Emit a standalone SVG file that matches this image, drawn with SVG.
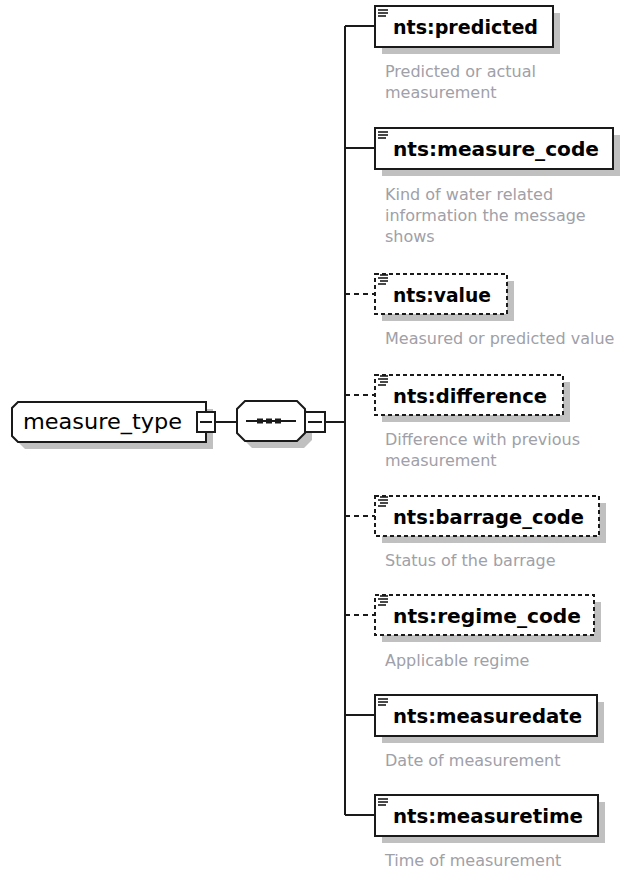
<svg xmlns="http://www.w3.org/2000/svg" width="622" height="871" viewBox="0 0 622 871">
<style>
.bg{fill:#ffffff}
.shadow{fill:#c0c0c0;stroke:none}
.box{fill:#ffffff;stroke:#1a1a1a;stroke-width:2}
.opt{fill:#ffffff;stroke:#1a1a1a;stroke-width:2;stroke-dasharray:4,3}
.line{stroke:#1a1a1a;stroke-width:2;fill:none}
.dline{stroke:#1a1a1a;stroke-width:2;fill:none;stroke-dasharray:5,4}
.icon{stroke:#1a1a1a;stroke-width:1.6}
.name{font-family:"DejaVu Sans",sans-serif;font-weight:bold;font-size:20px;fill:#000000}
.type{font-family:"DejaVu Sans",sans-serif;font-size:20.5px;fill:#000000}
.desc{font-family:"DejaVu Sans",sans-serif;font-size:16px;fill:#a0a0a8}
</style>
<rect class="bg" x="0" y="0" width="622" height="871"/>

<g id="connectors">
  <line class="line" x1="215" y1="422" x2="237" y2="422"/>
  <line class="line" x1="325" y1="422" x2="345" y2="422"/>
  <line class="line" x1="345" y1="26" x2="345" y2="815"/>
  <line class="line" x1="345" y1="26" x2="375" y2="26"/>
  <line class="line" x1="345" y1="148" x2="375" y2="148"/>
  <line class="dline" x1="345" y1="294" x2="375" y2="294"/>
  <line class="dline" x1="345" y1="395" x2="375" y2="395"/>
  <line class="dline" x1="345" y1="516" x2="375" y2="516"/>
  <line class="dline" x1="345" y1="615" x2="375" y2="615"/>
  <line class="line" x1="345" y1="715" x2="375" y2="715"/>
  <line class="line" x1="345" y1="815" x2="375" y2="815"/>
</g>

<g id="measure_type">
  <path class="shadow" d="M25,409 H213 V449 H25 L19,443 V415 Z"/>
  <path class="box" d="M18,402 H206 V442 H18 L12,436 V408 Z"/>
  <text class="type" x="23" y="429" textLength="159" lengthAdjust="spacingAndGlyphs">measure_type</text>
  <rect class="box" x="197" y="412" width="18" height="20"/>
  <line class="line" x1="200" y1="422" x2="212" y2="422"/>
</g>

<g id="sequence">
  <path class="shadow" d="M252,408 H304 L312,416 V440 L304,448 H252 L244,440 V416 Z"/>
  <path class="box" d="M245,401 H297 L305,409 V433 L297,441 H245 L237,433 V409 Z"/>
  <line class="line" x1="246" y1="421" x2="296" y2="421"/>
  <rect x="257" y="418.5" width="6" height="5" fill="#1a1a1a"/>
  <rect x="266" y="418.5" width="6" height="5" fill="#1a1a1a"/>
  <rect x="275" y="418.5" width="6" height="5" fill="#1a1a1a"/>
  <rect class="box" x="305" y="412" width="20" height="20"/>
  <line class="line" x1="308" y1="422" x2="322" y2="422"/>
</g>

<g id="predicted">
  <rect class="shadow" x="382" y="13" width="178" height="41"/>
  <rect class="box" x="375" y="6" width="178" height="41"/>
  <line class="icon" x1="378" y1="10" x2="388" y2="10"/>
  <line class="icon" x1="378" y1="13" x2="388" y2="13"/>
  <line class="icon" x1="378" y1="16" x2="386" y2="16"/>
  <text class="name" x="393" y="33.5" textLength="145" lengthAdjust="spacingAndGlyphs">nts:predicted</text>
  <text class="desc" x="385" y="77">Predicted or actual</text>
  <text class="desc" x="385" y="98">measurement</text>
</g>

<g id="measure_code">
  <rect class="shadow" x="382" y="135" width="238" height="41"/>
  <rect class="box" x="375" y="128" width="238" height="41"/>
  <line class="icon" x1="378" y1="132" x2="388" y2="132"/>
  <line class="icon" x1="378" y1="135" x2="388" y2="135"/>
  <line class="icon" x1="378" y1="138" x2="386" y2="138"/>
  <text class="name" x="393" y="155.5" textLength="206" lengthAdjust="spacingAndGlyphs">nts:measure_code</text>
  <text class="desc" x="385" y="200">Kind of water related</text>
  <text class="desc" x="385" y="221">information the message</text>
  <text class="desc" x="385" y="242">shows</text>
</g>

<g id="value">
  <rect class="shadow" x="382" y="281" width="132" height="40"/>
  <rect class="opt" x="375" y="274" width="132" height="40"/>
  <line class="icon" x1="380" y1="275" x2="388" y2="275"/>
  <line class="icon" x1="378" y1="278" x2="388" y2="278"/>
  <line class="icon" x1="380" y1="281" x2="388" y2="281"/>
  <line class="icon" x1="378" y1="284" x2="386" y2="284"/>
  <text class="name" x="393" y="301.5" textLength="98" lengthAdjust="spacingAndGlyphs">nts:value</text>
  <text class="desc" x="385" y="344">Measured or predicted value</text>
</g>

<g id="difference">
  <rect class="shadow" x="382" y="382" width="188" height="40"/>
  <rect class="opt" x="375" y="375" width="188" height="40"/>
  <line class="icon" x1="380" y1="376" x2="388" y2="376"/>
  <line class="icon" x1="378" y1="379" x2="388" y2="379"/>
  <line class="icon" x1="380" y1="382" x2="388" y2="382"/>
  <line class="icon" x1="378" y1="385" x2="386" y2="385"/>
  <text class="name" x="393" y="402.5" textLength="154" lengthAdjust="spacingAndGlyphs">nts:difference</text>
  <text class="desc" x="385" y="445">Difference with previous</text>
  <text class="desc" x="385" y="466">measurement</text>
</g>

<g id="barrage_code">
  <rect class="shadow" x="382" y="503" width="224" height="40"/>
  <rect class="opt" x="375" y="496" width="224" height="40"/>
  <line class="icon" x1="380" y1="497" x2="388" y2="497"/>
  <line class="icon" x1="378" y1="500" x2="388" y2="500"/>
  <line class="icon" x1="380" y1="503" x2="388" y2="503"/>
  <line class="icon" x1="378" y1="506" x2="386" y2="506"/>
  <text class="name" x="393" y="523.5" textLength="191" lengthAdjust="spacingAndGlyphs">nts:barrage_code</text>
  <text class="desc" x="385" y="566">Status of the barrage</text>
</g>

<g id="regime_code">
  <rect class="shadow" x="382" y="602" width="219" height="40"/>
  <rect class="opt" x="375" y="595" width="219" height="40"/>
  <line class="icon" x1="380" y1="596" x2="388" y2="596"/>
  <line class="icon" x1="378" y1="599" x2="388" y2="599"/>
  <line class="icon" x1="380" y1="602" x2="388" y2="602"/>
  <line class="icon" x1="378" y1="605" x2="386" y2="605"/>
  <text class="name" x="393" y="622.5" textLength="188" lengthAdjust="spacingAndGlyphs">nts:regime_code</text>
  <text class="desc" x="385" y="666">Applicable regime</text>
</g>

<g id="measuredate">
  <rect class="shadow" x="382" y="702" width="222" height="41"/>
  <rect class="box" x="375" y="695" width="222" height="41"/>
  <line class="icon" x1="378" y1="699" x2="388" y2="699"/>
  <line class="icon" x1="378" y1="702" x2="388" y2="702"/>
  <line class="icon" x1="378" y1="705" x2="386" y2="705"/>
  <text class="name" x="393" y="722.5" textLength="189" lengthAdjust="spacingAndGlyphs">nts:measuredate</text>
  <text class="desc" x="385" y="766">Date of measurement</text>
</g>

<g id="measuretime">
  <rect class="shadow" x="382" y="802" width="223" height="41"/>
  <rect class="box" x="375" y="795" width="223" height="41"/>
  <line class="icon" x1="378" y1="799" x2="388" y2="799"/>
  <line class="icon" x1="378" y1="802" x2="388" y2="802"/>
  <line class="icon" x1="378" y1="805" x2="386" y2="805"/>
  <text class="name" x="393" y="822.5" textLength="190" lengthAdjust="spacingAndGlyphs">nts:measuretime</text>
  <text class="desc" x="385" y="866">Time of measurement</text>
</g>
</svg>
